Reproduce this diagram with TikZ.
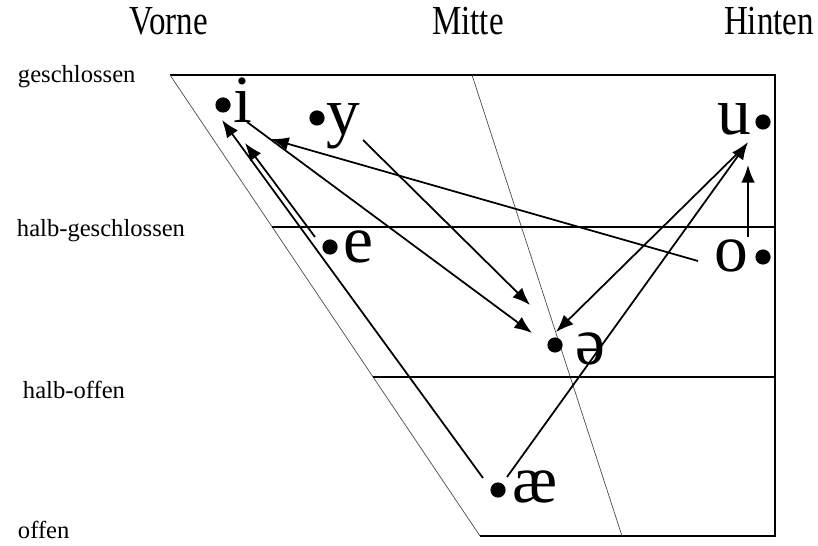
\documentclass[tikz,border=0pt]{standalone}
\usepackage{fontspec}
\setmainfont{Liberation Serif}
\usetikzlibrary{calc,arrows.meta}
\newcommand{\vowelfont}{\fontsize{48}{52}\selectfont}
\newcommand{\headfont}{\fontsize{23.5}{26}\selectfont}
\newcommand{\rowfont}{\fontsize{17.5}{20}\selectfont}
\newcommand{\tallhead}[1]{\scalebox{1}[1.25]{#1}}

\begin{document}
\begin{tikzpicture}[>={Latex[length=0.44cm,width=0.34cm]},
  frame/.style={line width=1.2pt},
  guide/.style={line width=0.5pt,black!70},
  move/.style={->,line width=1.25pt},
  dot/.style={circle,fill,inner sep=0pt,minimum size=0.38cm},
  vowel/.style={anchor=base,inner sep=0pt,font=\vowelfont}]

  \useasboundingbox (0,0) rectangle (20.45,13.625);

  % the trapezoid
  \coordinate (tl) at (4.25,11.75);
  \coordinate (tr) at (19.375,11.75);
  \coordinate (br) at (19.375,0.225);
  \coordinate (bl) at (12.0,0.225);
  \draw[frame] (tl) -- (tr) -- (br) -- (bl);
  \draw[guide] (tl) -- (bl);
  \coordinate (mt) at (11.8,11.75);
  \coordinate (mb) at (15.55,0.225);
  \draw[guide] (mt) -- (mb);
  \coordinate (hg) at ($(tl)!0.33!(bl)$);
  \coordinate (ho) at ($(tl)!0.655!(bl)$);
  \draw[frame] (hg) -- (hg -| tr);
  \draw[frame] (ho) -- (ho -| tr);

  % headings
  \node[font=\headfont,anchor=base] (vorne)  at (4.225,12.75) {\tallhead{Vorne}};
  \node[font=\headfont,anchor=base] (mitte)  at (11.7,12.75) {\tallhead{Mitte}};
  \node[font=\headfont,anchor=base] (hinten) at (19.225,12.75) {\tallhead{Hinten}};

  \node[font=\rowfont,anchor=base west] (gs) at (0.325,11.55) {geschlossen};
  \node[font=\rowfont,anchor=base west] (hgs) at (0.3,7.7) {halb-geschlossen};
  \node[font=\rowfont,anchor=base west] (hof) at (0.45,3.675) {halb-offen};
  \node[font=\rowfont,anchor=base west] (of) at (0.325,0.175) {offen};

  % vowels
  \node[vowel] (i)  at (6.075,10.55) {i};
  \node[dot]   (bi) at (5.575,11.0) {};
  \node[vowel] (y)  at (8.575,10.25) {y};
  \node[dot]   (by) at (7.925,10.675) {};
  \node[vowel] (u)  at (18.35,10.25) {u};
  \node[dot]   (bu) at (19.075,10.575) {};
  \node[vowel] (e)  at (8.95,7.05) {e};
  \node[dot]   (be) at (8.25,7.45) {};
  \node[vowel] (o)  at (18.275,6.825) {o};
  \node[dot]   (bo) at (19.075,7.2) {};
  \node[vowel] (sw) at (14.75,4.5) {ə};
  \node[dot]   (bsw) at (13.875,5.0) {};
  \node[vowel] (ae) at (13.375,1.075) {æ};
  \node[dot]   (bae) at (12.45,1.375) {};

  % ends of the arrows
  \coordinate (oa)  at (17.45,7.1);
  \coordinate (ia)  at (6.775,10.15);
  \coordinate (aea) at (12.075,1.675);
  \coordinate (ib)  at (5.55,10.625);
  \coordinate (ea)  at (7.875,7.7);
  \coordinate (ic)  at (6.125,10.05);
  \coordinate (id)  at (6.175,10.575);
  \coordinate (swa) at (13.3,5.3);
  \coordinate (ya)  at (9.075,10.125);
  \coordinate (swb) at (13.25,6.0);
  \coordinate (ua)  at (18.625,9.975);
  \coordinate (swc) at (13.9,5.325);
  \coordinate (aeb) at (12.675,1.7);
  \coordinate (ub)  at (18.7,10.075);
  \coordinate (ob)  at (18.7,7.7);
  \coordinate (uc)  at (18.7,9.5);

  \draw[move] (oa) -- (ia);
  \draw[move] (aea) -- (ib);
  \draw[move] (ea) -- (ic);
  \draw[move] (id) -- (swa);
  \draw[move] (ya) -- (swb);
  \draw[move] (ua) -- (swc);
  \draw[move] (aeb) -- (ub);
  \draw[move] (ob) -- (uc);

\end{tikzpicture}
\end{document}
